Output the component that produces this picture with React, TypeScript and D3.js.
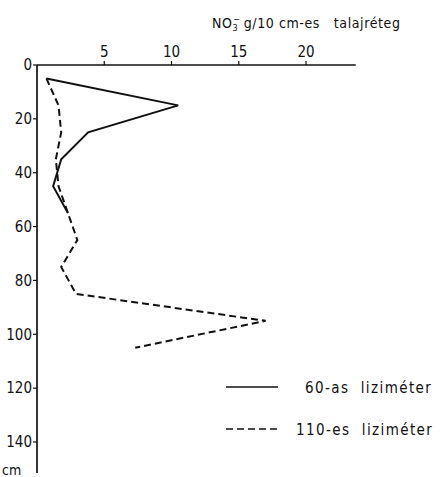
import React from "react";
import * as d3 from "d3";

const depths60 = [5, 15, 25, 35, 45, 55];
const values60 = [0.7, 10.5, 3.8, 1.8, 1.2, 2.3];
const depths110 = [5, 15, 25, 35, 45, 55, 65, 75, 85, 95, 105];
const values110 = [0.7, 1.6, 1.8, 1.4, 1.6, 2.3, 3.0, 1.8, 2.9, 17.0, 7.3];
const xTicks = [5, 10, 15, 20];
const yTicks = [0, 20, 40, 60, 80, 100, 120, 140];
const legendLabels = ["60-as  liziméter", "110-es  liziméter"];

const FONT = "'DejaVu Sans Condensed', 'DejaVu Sans', sans-serif";

export default function App() {
  const W = 446, H = 477;
  const x = d3.scaleLinear().domain([0, 20]).range([37, 306]);
  const y = d3.scaleLinear().domain([0, 140]).range([65, 442]);
  const line = d3
    .line<[number, number]>()
    .x((d) => x(d[1]))
    .y((d) => y(d[0]));
  const pts60 = depths60.map((d, i) => [d, values60[i]] as [number, number]);
  const pts110 = depths110.map((d, i) => [d, values110[i]] as [number, number]);
  const xMax = 23.7;
  const yMaxPx = 473;
  return (
    <svg
      width={W}
      height={H}
      style={{ position: "absolute", left: 0, top: 0, background: "#fff" }}
      fontFamily={FONT}
    >
      {/* title */}
      <text x={212} y={28} fontSize={14} fill="#111" letterSpacing={0.6} style={{ whiteSpace: "pre" }}>
        NO
        <tspan fontSize={9} dy={3}>3</tspan>
        <tspan fontSize={9} dx={-5} dy={-9}>−</tspan>
        <tspan fontSize={14} dy={6} dx={3}>g/10 cm-es   talajréteg</tspan>
      </text>
      {/* x axis */}
      <line x1={x(0)} x2={x(xMax)} y1={y(0)} y2={y(0)} stroke="#111" strokeWidth={1.7} />
      {xTicks.map((t) => (
        <g key={t}>
          <line x1={x(t)} x2={x(t)} y1={y(0)} y2={y(0) - 4} stroke="#111" strokeWidth={1.2} />
          <text x={x(t)} y={y(0) - 8} textAnchor="middle" fontSize={15} fill="#111">
            {t}
          </text>
        </g>
      ))}
      {/* y axis */}
      <line x1={x(0)} x2={x(0)} y1={y(0)} y2={yMaxPx} stroke="#111" strokeWidth={1.7} />
      {yTicks.map((t) => (
        <g key={t}>
          <line x1={x(0) - 4} x2={x(0)} y1={y(t)} y2={y(t)} stroke="#111" strokeWidth={1.2} />
          <text x={x(0) - 5} y={y(t)} dy="0.35em" textAnchor="end" fontSize={15} fill="#111">
            {t}
          </text>
        </g>
      ))}
      <text x={2} y={475} fontSize={14} fill="#111">cm</text>
      {/* series */}
      <path d={line(pts60) ?? ""} fill="none" stroke="#111" strokeWidth={2} strokeLinejoin="miter" />
      <path d={line(pts110) ?? ""} fill="none" stroke="#111" strokeWidth={2} strokeDasharray="7,4" />
      {/* legend */}
      <line x1={226} x2={278} y1={387} y2={387} stroke="#111" strokeWidth={1.7} />
      <text x={305} y={393} fontSize={15} letterSpacing={1.4} fill="#111" style={{ whiteSpace: "pre" }}>
        {legendLabels[0]}
      </text>
      <line x1={226} x2={278} y1={429} y2={429} stroke="#111" strokeWidth={1.7} strokeDasharray="7,4" />
      <text x={296} y={435} fontSize={15} letterSpacing={1.4} fill="#111" style={{ whiteSpace: "pre" }}>
        {legendLabels[1]}
      </text>
    </svg>
  );
}
